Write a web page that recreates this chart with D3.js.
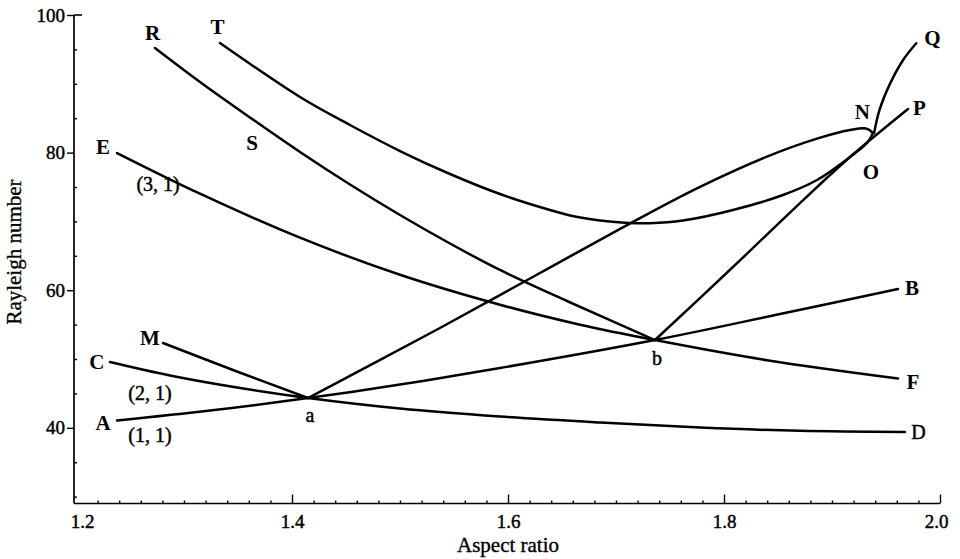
<!DOCTYPE html>
<html>
<head>
<meta charset="utf-8">
<script src="https://cdn.jsdelivr.net/npm/d3@7"></script>
<style>
  html, body { margin: 0; padding: 0; background: #fff; }
  svg { display: block; }
  text { font-family: "Liberation Serif", "Times New Roman", serif; fill: #000; }
</style>
</head>
<body>
<svg id="chart" width="960" height="559"></svg>
<script>
// Rayleigh number of convection branches against the aspect ratio of the cell.
// a and b are the crossing points shared by several branches.
const pointA = [1.4148, 44.33];
const pointB = [1.7361, 52.76];

const branchAB = [[1.238, 41.06], [1.3241, 42.51], pointA, [1.5, 46.29], [1.5926, 48.69], pointB, [1.8519, 56.54], [1.9611, 60.17]];
const branchCD = [[1.2315, 49.56], [1.287, 47.6], [1.3519, 45.78], pointA, [1.5, 42.8], [1.5926, 41.64], [1.6852, 40.77], [1.7778, 40.04], [1.8704, 39.56], [1.9676, 39.39]];
const branchM = [[1.2806, 52.33], [1.3472, 48.3], pointA];
const branchEF = [[1.238, 79.94], [1.3148, 74.03], [1.4074, 67.63], [1.5, 62.25], [1.5926, 57.89], [1.6667, 54.99], pointB, [1.8398, 49.83], [1.9611, 47.17]];
const branchRS = [[1.2731, 95.2], [1.3148, 90.26], [1.3611, 85.1], [1.4074, 80.09], [1.4537, 75.36], [1.5, 70.93], [1.5463, 66.79], [1.5926, 62.94], [1.6546, 58.43], pointB];
const branchOP = [pointB, [1.8083, 63.37], [1.8704, 72.67], [1.9167, 79.36], [1.9704, 86.34]];
const branchT = [[1.3333, 95.93], [1.4074, 88.08], [1.4537, 84.01], [1.5, 80.23], [1.5463, 76.89], [1.5926, 73.98], [1.6389, 71.66], [1.662, 70.71], [1.6852, 70.13], [1.7083, 69.81], [1.7315, 69.74], [1.762, 70.13], [1.8083, 71.66], [1.8546, 73.84], [1.8861, 76.02], [1.9167, 79.36], [1.9324, 81.4], [1.938, 82.85]];
const branchN = [pointA, [1.537, 54.51], [1.6296, 62.5], [1.7222, 70.49], [1.7778, 75.03], [1.8398, 79.42], [1.8861, 82.03], [1.9167, 83.28], [1.9315, 83.5], [1.938, 82.85]];
const branchQ = [[1.939, 82.85], [1.944, 86.2], [1.954, 90.1], [1.966, 93.5], [1.978, 95.9]];

const branches = [branchAB, branchCD, branchM, branchEF, branchRS, branchOP, branchT, branchN, branchQ];

// Annotation labels: text and the point (aspect ratio, Rayleigh number) they sit on
const labelText = ["R", "T", "S", "E", "(3, 1)", "M", "C", "(2, 1)", "A", "(1, 1)", "a", "b", "N", "O", "P", "Q", "B", "F", "D"];
const labelAt = [[1.271, 97.4], [1.331, 98.3], [1.363, 81.5], [1.225, 80.8], [1.276, 75.5], [1.2685, 53.1], [1.2194, 49.6], [1.2685, 45.1], [1.225, 40.8], [1.2685, 39.0], [1.4167, 41.9], [1.738, 50.1], [1.928, 85.9], [1.936, 77.2], [1.981, 86.5], [1.993, 96.7], [1.974, 60.3], [1.975, 46.7], [1.98, 39.4]];
const labelBold = [true, true, true, true, false, true, true, false, true, false, false, false, true, true, true, true, true, true, false];

// Axis ticks
const xMajor = [1.2, 1.4, 1.6, 1.8, 2.0];
const xMinor = d3.range(1.22, 1.995, 0.02).filter(v => Math.abs(v * 5 - Math.round(v * 5)) > 1e-6);
const yMajor = [40, 60, 80, 100];
const yMinor = [30, 35, 45, 50, 55, 65, 70, 75, 85, 90, 95];

const xTitle = "Aspect ratio";
const yTitle = "Rayleigh number";

const svg = d3.select("#chart");
const x = d3.scaleLinear().domain([1.2, 2.0]).range([76, 940]);
const y = d3.scaleLinear().domain([29, 100]).range([503.5, 15]);
const x0 = 74;           // left edge of the frame
const yBase = y(29);     // bottom edge of the frame

const axes = svg.append("g");

// Frame lines
axes.append("line").attr("x1", x0).attr("x2", x(2.0)).attr("y1", yBase).attr("y2", yBase)
  .attr("stroke", "#000").attr("stroke-width", 1.7);
axes.append("line").attr("x1", x0).attr("x2", x0).attr("y1", yBase).attr("y2", y(100))
  .attr("stroke", "#000").attr("stroke-width", 1.7);

// Bottom axis: minor ticks, then major ticks with labels
const xMinorAxis = d3.axisBottom(x).tickValues(xMinor).tickSize(-3).tickFormat("");
const gxm = axes.append("g").attr("transform", `translate(0,${yBase})`).call(xMinorAxis);
const xMajorAxis = d3.axisBottom(x).tickValues(xMajor.filter(v => v > 1.2)).tickSize(-9).tickPadding(11).tickFormat(d3.format(".1f"));
const gxM = axes.append("g").attr("transform", `translate(0,${yBase})`).call(xMajorAxis);
const gxL = axes.append("g").attr("transform", `translate(0,${yBase})`)
  .call(d3.axisBottom(x).tickValues([1.2]).tickSize(0).tickPadding(11).tickFormat(d3.format(".1f")));

// Left axis: minor ticks point in, labelled ticks point out
const gym = axes.append("g").attr("transform", `translate(${x0},0)`)
  .call(d3.axisLeft(y).tickValues(yMinor).tickSize(-3).tickFormat(""));
const gyM = axes.append("g").attr("transform", `translate(${x0},0)`)
  .call(d3.axisLeft(y).tickValues(yMajor).tickSize(7).tickPadding(2).tickFormat(d3.format("d")));
axes.append("line").attr("x1", x0).attr("x2", x0 + 8).attr("y1", y(100)).attr("y2", y(100))
  .attr("stroke", "#000").attr("stroke-width", 1.6);

[gxm, gxM, gxL, gym, gyM].forEach(g => {
  g.select(".domain").remove();
  g.selectAll(".tick line").attr("stroke", "#000").attr("stroke-width", 1.4);
  g.selectAll(".tick text").attr("font-size", 19).attr("font-family", "Liberation Serif")
    .attr("fill", "#000").attr("stroke", "#000").attr("stroke-width", 0.45);
});
gxM.selectAll(".tick text").filter(d => d === 2.0).attr("dx", -4);
gxL.selectAll(".tick text").attr("dx", 6);

// Axis titles
svg.append("text").attr("x", 508).attr("y", 552).attr("text-anchor", "middle")
  .attr("font-size", 21).attr("stroke", "#000").attr("stroke-width", 0.35).text(xTitle);
svg.append("text").attr("transform", "translate(21,252) rotate(-90)").attr("text-anchor", "middle")
  .attr("font-size", 21).attr("stroke", "#000").attr("stroke-width", 0.35).text(yTitle);

// Branch curves
const line = d3.line().x(d => x(d[0])).y(d => y(d[1])).curve(d3.curveCatmullRom.alpha(0.5));
svg.append("g").selectAll("path").data(branches).join("path")
  .attr("d", line)
  .attr("fill", "none").attr("stroke", "#000").attr("stroke-width", 2.5)
  .attr("stroke-linecap", "round").attr("stroke-linejoin", "round");

// Labels
svg.append("g").selectAll("text").data(labelText).join("text")
  .attr("x", (d, i) => x(labelAt[i][0]))
  .attr("y", (d, i) => y(labelAt[i][1]))
  .attr("dy", "0.35em")
  .attr("text-anchor", "middle")
  .attr("font-size", (d, i) => labelBold[i] ? 21 : 20)
  .attr("font-weight", (d, i) => labelBold[i] ? "bold" : "normal")
  .attr("stroke", "#000")
  .attr("stroke-width", (d, i) => labelBold[i] ? 0 : 0.45)
  .text(d => d);
</script>
</body>
</html>
